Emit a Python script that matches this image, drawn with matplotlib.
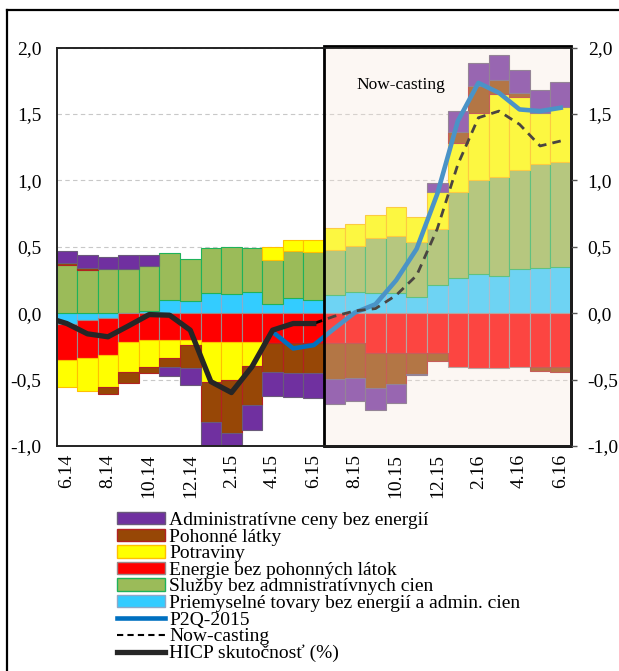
import matplotlib
matplotlib.use("Agg")
import matplotlib.pyplot as plt
import numpy as np
from matplotlib.patches import Rectangle, Patch
from matplotlib.lines import Line2D

plt.rcParams['font.family'] = ['Liberation Serif', 'DejaVu Serif']

# Months shown on the x axis (6.14 .. 6.16)
months = ["6.14", "7.14", "8.14", "9.14", "10.14", "11.14", "12.14",
          "1.15", "2.15", "3.15", "4.15", "5.15", "6.15",
          "7.15", "8.15", "9.15", "10.15", "11.15", "12.15",
          "1.16", "2.16", "3.16", "4.16", "5.16", "6.16"]

# Contributions to HICP inflation (p.b.)
priemyselne = [-0.078, -0.0525, -0.035, 0.0, 0.0175, 0.1025, 0.09, 0.1525, 0.1475, 0.16,
               0.0725, 0.1175, 0.1025, 0.14, 0.16, 0.15, 0.15, 0.125, 0.215,
               0.2675, 0.2975, 0.2825, 0.335, 0.34, 0.3475]
sluzby = [0.36, 0.325, 0.33, 0.335, 0.34, 0.3525, 0.32, 0.3375, 0.35, 0.33,
          0.33, 0.3475, 0.3575, 0.34, 0.345, 0.415, 0.43, 0.41, 0.42,
          0.6475, 0.7075, 0.74, 0.7425, 0.7825, 0.7925]
energie = [-0.275, -0.2825, -0.28, -0.215, -0.2025, -0.2025, -0.2025, -0.22, -0.22, -0.22,
           -0.2275, -0.2275, -0.2275, -0.2225, -0.2225, -0.2975, -0.3025, -0.3025, -0.3025,
           -0.4025, -0.41, -0.41, -0.4025, -0.4075, -0.4075]
potraviny = [-0.205, -0.25, -0.2375, -0.225, -0.2, -0.1325, -0.0375, -0.2975, -0.2825, -0.1775,
             0.095, 0.0875, 0.0925, 0.16, 0.1675, 0.1775, 0.2175, 0.1925, 0.275,
             0.365, 0.505, 0.6325, 0.5525, 0.3875, 0.415]
pohonne = [0.02, 0.0125, -0.0525, -0.0875, -0.045, -0.0675, -0.175, -0.305, -0.4, -0.2925,
           -0.2125, -0.22, -0.225, -0.275, -0.2675, -0.2675, -0.23, -0.155, -0.0575,
           0.085, 0.2, 0.1, 0.03, -0.025, -0.0325]
administrativne = [0.0875, 0.1, 0.095, 0.1, 0.08, -0.07, -0.125, -0.2, -0.12, -0.1875,
                   -0.1825, -0.185, -0.1875, -0.185, -0.1675, -0.1625, -0.145, -0.005, 0.0675,
                   0.1575, 0.175, 0.19, 0.17, 0.175, 0.185]

# Lines: actual HICP (starts one month before the first bar), projection and now-casting
hicp_x0 = -1
hicp = [-0.03, -0.0775, -0.155, -0.1775, -0.095, -0.01, -0.015, -0.1275, -0.515, -0.5975,
        -0.4025, -0.1275, -0.0775, -0.0775]
p2q_x0 = 10
p2q = [-0.14, -0.265, -0.24, -0.115, 0.005, 0.0675, 0.2475, 0.485, 0.8975,
       1.4475, 1.735, 1.66, 1.535, 1.5225, 1.5475]
nowcast_x0 = 12
nowcast = [-0.0775, -0.0225, 0.0175, 0.035, 0.135, 0.285, 0.635,
           1.12, 1.4725, 1.5225, 1.4225, 1.26, 1.2975]

# Stacking order (bottom to top) with fill and edge colours
series = [
    ("Priemyselné tovary bez energií a admin. cien", priemyselne, "#33CCFF", "#8EA9C8"),
    ("Služby bez admnistratívnych cien", sluzby, "#9BBB59", "#1FB25A"),
    ("Energie bez pohonných látok", energie, "#FF0000", "#9A8A8A"),
    ("Potraviny", potraviny, "#FFFF00", "#FFC000"),
    ("Pohonné látky", pohonne, "#974706", "#B22222"),
    ("Administratívne ceny bez energií", administrativne, "#7030A0", "#6A5A7A"),
]

FS = 14

fig = plt.figure(figsize=(6.19, 6.71), dpi=100)
ax = fig.add_axes([56.5 / 619, 1 - 446 / 671, (571 - 56.5) / 619, (446 - 47.7) / 671])

x = np.arange(len(months))
pos = np.zeros(len(months))
neg = np.zeros(len(months))
for name, vals, fc, ec in series:
    v = np.array(vals, dtype=float)
    bottom = np.where(v >= 0, pos, neg)
    ax.bar(x, v, width=1.0, bottom=bottom, color=fc, edgecolor=ec,
           linewidth=0.8, zorder=2)
    pos = pos + np.where(v >= 0, v, 0)
    neg = neg + np.where(v < 0, v, 0)

ax.plot(np.arange(len(p2q)) + p2q_x0, p2q, color="#0070C0", lw=3.3,
        solid_joinstyle="round", zorder=3)
ax.plot(np.arange(len(nowcast)) + nowcast_x0, nowcast, color="black", lw=2.0,
        dashes=(3.2, 2.2), zorder=3)
ax.plot(np.arange(len(hicp)) + hicp_x0, hicp, color="#262626", lw=3.8,
        solid_joinstyle="round", zorder=4)

# Now-casting period: light veil and frame
ax.add_patch(Rectangle((12.5, -1.0), 12.0, 3.0, facecolor=(0.97, 0.90, 0.85, 0.30),
                       edgecolor="none", zorder=5))
ax.add_patch(Rectangle((12.5, -1.0), 12.0, 3.015, facecolor="none",
                       edgecolor="black", lw=2.0, zorder=6, clip_on=False))
ax.text(16.25, 1.72, "Now-casting", fontsize=12.5, ha="center", va="center", zorder=7)

ax.set_xlim(-0.5, len(months) - 0.5)
ax.set_ylim(-1.0, 2.0)
yt = np.arange(-1.0, 2.01, 0.5)
ax.set_yticks(yt)
ylabels = [f"{t:.1f}".replace(".", ",") for t in yt]
ax.set_yticklabels(ylabels, fontsize=FS)
ax.tick_params(axis="y", left=False, length=0, pad=11)
ax.yaxis.grid(True, color="#C8C8C8", lw=0.8, dashes=(4, 3))
ax.set_axisbelow(True)

ax.set_xticks(x[::2])
ax.set_xticklabels(months[::2], rotation=90, fontsize=FS, va="top")
ax.tick_params(axis="x", length=0, pad=6)

ax2 = ax.twinx()
ax2.set_ylim(-1.0, 2.0)
ax2.set_yticks(yt)
ax2.set_yticklabels(ylabels, fontsize=FS)
ax2.tick_params(axis="y", direction="out", length=4, width=1, pad=8, color="#555555")

for a in (ax, ax2):
    for s in a.spines.values():
        s.set_linewidth(1.2)
        s.set_color("#222222")

handles = [Patch(facecolor=fc, edgecolor=ec) for _, _, fc, ec in reversed(series)]
labels = [name for name, _, _, _ in reversed(series)]
handles += [Line2D([], [], color="#0070C0", lw=3.3),
            Line2D([], [], color="black", lw=1.5, dashes=(3, 2)),
            Line2D([], [], color="#262626", lw=3.8)]
labels += ["P2Q-2015", "Now-casting", "HICP skutočnosť (%)"]
fig.legend(handles, labels, loc="upper left", bbox_to_anchor=(117 / 619, 1 - 512 / 671),
           frameon=False, fontsize=FS, handlelength=2.47, handleheight=0.6,
           handletextpad=0.2, labelspacing=-0.022, borderpad=0, borderaxespad=0)

# Outer frame (top and left edges)
fig.add_artist(Line2D([7 / 619, 1.0], [1 - 10 / 671, 1 - 10 / 671],
                      color="black", lw=1.6, transform=fig.transFigure))
fig.add_artist(Line2D([7 / 619, 7 / 619], [0.0, 1 - 10 / 671],
                      color="black", lw=1.6, transform=fig.transFigure))

fig.savefig("out.png", dpi=100)
